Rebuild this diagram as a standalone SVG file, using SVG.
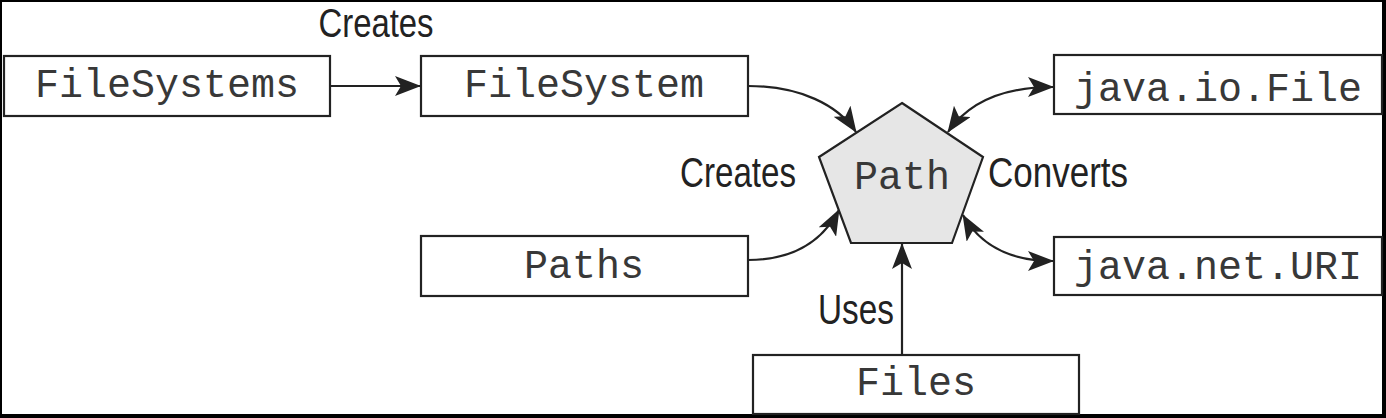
<svg xmlns="http://www.w3.org/2000/svg" width="1386" height="418" viewBox="0 0 1386 418">
<style>
.box{fill:#fff;stroke:#222;stroke-width:2.2}
.mono{font-family:"Liberation Mono","Courier New",monospace;font-size:40px;fill:#383838;text-anchor:middle}
.lbl{font-family:"Liberation Sans",Arial,sans-serif;font-size:43px;fill:#222;text-anchor:middle}
.conn{fill:none;stroke:#222;stroke-width:2.2}
</style>
<defs>
<marker id="ah" viewBox="0 0 26 20" refX="25" refY="10" markerWidth="26" markerHeight="20" markerUnits="userSpaceOnUse" orient="auto-start-reverse">
<path d="M0,0 L26,10 L0,20 L6,10 Z" fill="#222"/>
</marker>
</defs>
<rect x="0" y="0" width="1386" height="418" fill="#fff"/>
<g id="frame" fill="#000">
<rect x="0" y="0" width="1386" height="2"/>
<rect x="0" y="0" width="2" height="418"/>
<rect x="1382" y="0" width="4" height="418"/>
<rect x="0" y="414" width="1386" height="4"/>
</g>
<g id="connectors">
<path class="conn" d="M330,86 L420,86" marker-end="url(#ah)"/>
<path class="conn" d="M748,86 C800,86 838,105 856,132" marker-end="url(#ah)"/>
<path class="conn" d="M748,260 C792,260 822,242 839,210" marker-end="url(#ah)"/>
<path class="conn" d="M1053,87 C1002,87 968,103 948,132" marker-start="url(#ah)" marker-end="url(#ah)"/>
<path class="conn" d="M1053,261 C1010,261 980,245 963,215" marker-start="url(#ah)" marker-end="url(#ah)"/>
<path class="conn" d="M902,354 L902,244" marker-end="url(#ah)"/>
</g>
<g id="labels">
<text class="lbl" x="376" y="37" style="font-size:40px" textLength="115" lengthAdjust="spacingAndGlyphs">Creates</text>
<text class="lbl" x="738" y="187" textLength="116" lengthAdjust="spacingAndGlyphs">Creates</text>
<text class="lbl" x="1058" y="187" textLength="140" lengthAdjust="spacingAndGlyphs">Converts</text>
<text class="lbl" x="856" y="324" textLength="76" lengthAdjust="spacingAndGlyphs">Uses</text>
</g>
<g id="FileSystems">
<rect class="box" x="4" y="56" width="326" height="60"/>
<text class="mono" x="167" y="97">FileSystems</text>
</g>
<g id="FileSystem">
<rect class="box" x="421" y="56" width="327" height="60"/>
<text class="mono" x="584" y="97">FileSystem</text>
</g>
<g id="Paths">
<rect class="box" x="421" y="236" width="327" height="60"/>
<text class="mono" x="584" y="278">Paths</text>
</g>
<g id="Path">
<polygon points="902,103 983,157 952,243 851,243 819,157" fill="#e6e6e6" stroke="#222" stroke-width="2.2"/>
<text class="mono" x="902" y="189">Path</text>
</g>
<g id="JavaIoFile">
<rect class="box" x="1054" y="55" width="328" height="59"/>
<text class="mono" x="1218" y="101">java.io.File</text>
</g>
<g id="JavaNetURI">
<rect class="box" x="1054" y="237" width="328" height="58"/>
<text class="mono" x="1218" y="279">java.net.URI</text>
</g>
<g id="Files">
<rect class="box" x="753" y="355" width="326" height="59"/>
<text class="mono" x="916" y="395">Files</text>
</g>
</svg>
